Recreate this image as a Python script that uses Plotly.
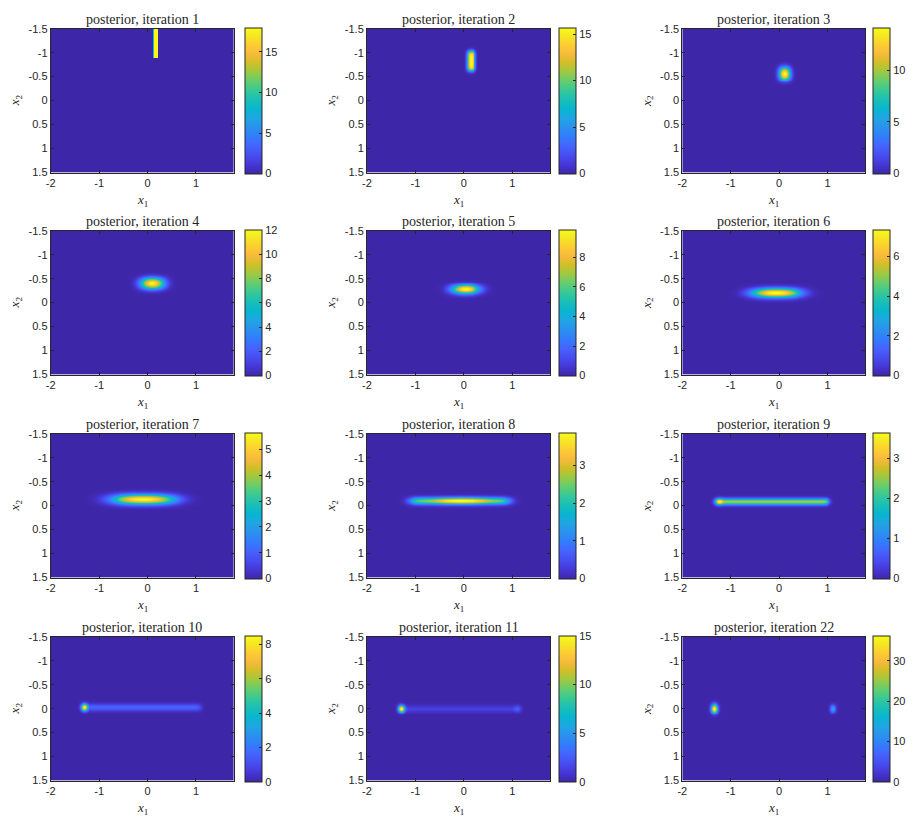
import math
import numpy as np
import plotly.graph_objects as go

# ---------------- data ----------------
iterations = [1, 2, 3, 4, 5, 6, 7, 8, 9, 10, 11, 22]
cbar_dtick = [5, 5, 5, 2, 2, 2, 1, 1, 1, 2, 5, 10]

# posterior components (smoothed boxes / gaussian bumps), one entry per component
comp_panel = [0, 1, 2, 3, 4, 5, 6, 7, 7, 8, 8, 9, 9, 10, 10, 10, 11, 11]
comp_cx = [0.175, 0.15, 0.115, 0.10, 0.04, -0.06, -0.08, -0.08, -0.05, -0.14, -1.24, -0.125, -1.31, -0.08, -1.29, 1.12, -1.33, 1.12]
comp_cy = [-1.19, -0.83, -0.56, -0.40, -0.275, -0.20, -0.13, -0.10, -0.10, -0.085, -0.085, -0.03, -0.03, 0.0, 0.0, 0.0, 0.0, 0.0]
comp_hx = [0.045, 0.07, 0.09, 0.20, 0.20, 0.42, 0.55, 1.02, 0.45, 1.16, 0.0, 1.22, 0.0, 1.22, 0.0, 0.0, 0.0, 0.0]
comp_hy = [0.31, 0.20, 0.11, 0.10, 0.0, 0.0, 0.0, 0.0, 0.0, 0.0, 0.0, 0.0, 0.0, 0.0, 0.0, 0.0, 0.0, 0.0]
comp_sx = [0.004, 0.035, 0.055, 0.11, 0.15, 0.20, 0.25, 0.10, 0.22, 0.05, 0.05, 0.05, 0.045, 0.05, 0.045, 0.05, 0.045, 0.04]
comp_sy = [0.004, 0.04, 0.06, 0.055, 0.065, 0.065, 0.07, 0.05, 0.045, 0.045, 0.045, 0.05, 0.05, 0.05, 0.05, 0.05, 0.065, 0.055]
comp_amp = [18.0, 15.7, 14.2, 12.1, 9.9, 7.45, 5.65, 2.4, 1.55, 2.6, 1.3, 1.6, 7.3, 1.3, 14.6, 1.7, 36.7, 14.0]

x_ticks = [-2, -1, 0, 1]
x_ticklabels = ["-2", "-1", "0", "1"]
y_ticks = [-1.5, -1, -0.5, 0, 0.5, 1, 1.5]
y_ticklabels = ["-1.5", "-1", "-0.5", "0", "0.5", "1", "1.5"]

# ---------------- grid ----------------
X_MIN, X_MAX, Y_MIN, Y_MAX, STEP = -2.0, 1.78, -1.5, 1.5, 0.02
nx = int(round((X_MAX - X_MIN) / STEP))
ny = int(round((Y_MAX - Y_MIN) / STEP))
xc = X_MIN + STEP / 2 + STEP * np.arange(nx)
yc = Y_MIN + STEP / 2 + STEP * np.arange(ny)
verf = np.vectorize(math.erf)


def profile(t, c, h, s):
    if h <= 0:
        return np.exp(-0.5 * ((t - c) / s) ** 2)
    k = s * math.sqrt(2.0)
    p = 0.5 * (verf((t - c + h) / k) - verf((t - c - h) / k))
    return p / math.erf(h / k)


Z = [np.zeros((ny, nx)) for _ in iterations]
for i, p in enumerate(comp_panel):
    fx = profile(xc, comp_cx[i], comp_hx[i], comp_sx[i])
    fy = profile(yc, comp_cy[i], comp_hy[i], comp_sy[i])
    Z[p] += comp_amp[i] * np.outer(fy, fx)

# ---------------- parula colormap ----------------
parula = [
    (0.2422, 0.1504, 0.6603), (0.2706, 0.2147, 0.8364), (0.2813, 0.3006, 0.9414),
    (0.2699, 0.3892, 0.9906), (0.1963, 0.4847, 0.9892), (0.1687, 0.5703, 0.9359),
    (0.1248, 0.6459, 0.8883), (0.0297, 0.7082, 0.8163), (0.0964, 0.7500, 0.7120),
    (0.2161, 0.7843, 0.5923), (0.3909, 0.8029, 0.4354), (0.6174, 0.7876, 0.2612),
    (0.8203, 0.7498, 0.1535), (0.9728, 0.7298, 0.2394), (0.9892, 0.8136, 0.1885),
    (0.9597, 0.9135, 0.1423), (0.9769, 0.9839, 0.0805)]
pidx = [0, 4, 8, 12, 16, 20, 24, 28, 32, 36, 40, 44, 48, 52, 56, 60, 63]
colorscale = [[pi / 63.0, "rgb(%d,%d,%d)" % tuple(int(round(v * 255)) for v in c)]
              for pi, c in zip(pidx, parula)]

# ---------------- layout ----------------
W, H = 915, 826
col_left = [46, 364, 681]
cb_left = [241, 557, 873]
row_top = [23, 228, 434, 640]
PW, PH = 184, 146
AX = "#262626"
tick_font = dict(family="Liberation Sans, Arial, sans-serif", size=11, color=AX)
serif = "Liberation Serif, Times New Roman, serif"

fig = go.Figure()
layout = dict(width=W, height=H, autosize=False, margin=dict(l=0, r=0, t=0, b=0),
              paper_bgcolor="white", plot_bgcolor="white", showlegend=False)
annotations = []

for k, it in enumerate(iterations):
    r, c = divmod(k, 3)
    x0p = col_left[c] / W
    x1p = (col_left[c] + PW) / W
    y1p = 1 - row_top[r] / H
    y0p = 1 - (row_top[r] + PH) / H
    n = "" if k == 0 else str(k + 1)
    z = Z[k].astype(np.float32)
    fig.add_trace(go.Heatmap(
        z=z, x0=X_MIN + STEP / 2, dx=STEP, y0=Y_MIN + STEP / 2, dy=STEP,
        colorscale=colorscale, zmin=0, zmax=float(z.max()), zsmooth=False,
        xaxis="x" + n, yaxis="y" + n, hoverinfo="skip",
        colorbar=dict(x=cb_left[c] / W, xanchor="left", xpad=0,
                      y=(y0p + y1p) / 2, yanchor="middle", ypad=0,
                      len=PH, lenmode="pixels", thickness=17, thicknessmode="pixels",
                      outlinewidth=1, outlinecolor=AX, ticks="inside", ticklen=3,
                      tickcolor=AX, tickfont=tick_font, tick0=0, dtick=cbar_dtick[k]),
    ))
    common = dict(showline=True, mirror="ticks", linecolor=AX, linewidth=1,
                  ticks="inside", ticklen=3, tickcolor=AX, showgrid=False,
                  zeroline=False, tickfont=tick_font)
    layout["xaxis" + n] = dict(domain=[x0p, x1p], range=[X_MIN, X_MAX],
                               anchor="y" + n, tickvals=x_ticks, ticktext=x_ticklabels, **common)
    layout["yaxis" + n] = dict(domain=[y0p, y1p], range=[Y_MAX, Y_MIN],
                               anchor="x" + n, tickvals=y_ticks, ticktext=y_ticklabels, **common)
    annotations.append(dict(text="posterior, iteration %d" % it, xref="paper", yref="paper",
                            x=(x0p + x1p) / 2, y=y1p, xanchor="center", yanchor="bottom",
                            yshift=0, showarrow=False, font=dict(family=serif, size=14, color=AX)))
    annotations.append(dict(text="<i>x</i><sub>1</sub>", xref="paper", yref="paper",
                            x=(x0p + x1p) / 2, y=y0p, xanchor="center", yanchor="middle",
                            yshift=-28, showarrow=False, font=dict(family=serif, size=13, color=AX)))
    annotations.append(dict(text="<i>x</i><sub>2</sub>", xref="paper", yref="paper",
                            x=x0p, y=(y0p + y1p) / 2, xanchor="center", yanchor="middle",
                            xshift=-35, textangle=-90, showarrow=False,
                            font=dict(family=serif, size=13, color=AX)))

layout["annotations"] = annotations
fig.update_layout(**layout)
fig.write_html("out.html")
